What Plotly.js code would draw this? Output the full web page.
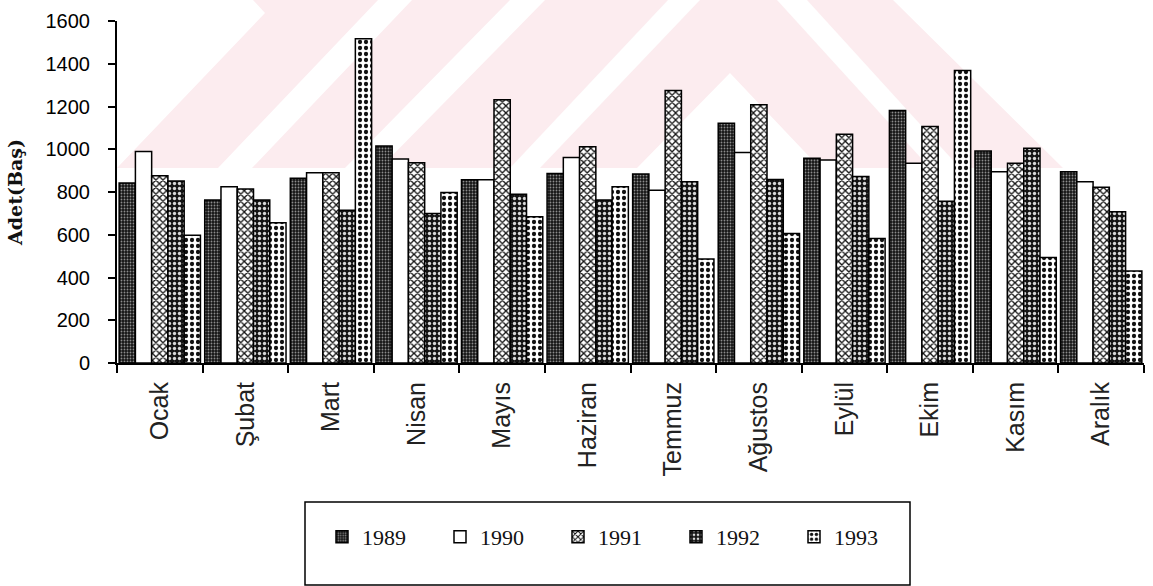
<!DOCTYPE html>
<html>
<head>
<meta charset="utf-8">
<script src="https://cdn.plot.ly/plotly-3.0.1.min.js"></script>
<style>
  html, body { margin: 0; padding: 0; background: #ffffff; }
  #wrap { position: relative; width: 1153px; height: 586px; overflow: hidden; }
  #mark { position: absolute; left: 0; top: 0; }
  #chart { position: absolute; left: 0; top: 0; width: 1153px; height: 586px; }
</style>
</head>
<body>
<div id="wrap">
  <!-- faint striped emblem behind the plot -->
  <svg id="mark" width="1153" height="586">
    <defs><clipPath id="band"><rect x="0" y="0" width="1153" height="168"/></clipPath></defs>
    <g clip-path="url(#band)">
      <polygon fill="#fcecef" points="117,168 265,13 253,0 893,0 1063,168"/>
      <g fill="#ffffff">
        <polygon points="218,168 252,168 412,0 378,0"/>
        <polygon points="345,168 380,168 545,0 510,0"/>
        <polygon points="510,168 540,168 700,0 668,0"/>
        <polygon points="777,0 807,0 960,168 930,168"/>
        <polygon points="637,168 730,73 820,168"/>
      </g>
    </g>
  </svg>
  <div id="chart"></div>
</div>
<script>
// Monthly counts (Adet, Baş) per year
const months = ['Ocak', 'Şubat', 'Mart', 'Nisan', 'Mayıs', 'Haziran',
                'Temmuz', 'Ağustos', 'Eylül', 'Ekim', 'Kasım', 'Aralık'];
const years = ['1989', '1990', '1991', '1992', '1993'];

const y1989 = [842, 762, 864, 1015, 857, 887, 884, 1122, 958, 1181, 992, 895];
const y1990 = [989, 825, 890, 954, 857, 961, 808, 985, 950, 934, 895, 848];
const y1991 = [876, 814, 890, 937, 1231, 1012, 1275, 1208, 1070, 1106, 934, 822];
const y1992 = [851, 762, 715, 700, 789, 762, 848, 859, 872, 757, 1005, 708];
const y1993 = [598, 656, 1517, 798, 684, 825, 486, 606, 583, 1369, 494, 430];

const yTicks = [0, 200, 400, 600, 800, 1000, 1200, 1400, 1600];

const series = [y1989, y1990, y1991, y1992, y1993];

// fill patterns imitating the printed hatchings
const fills = [
  { shape: '.', bgcolor: '#151515', fgcolor: '#8c8c8c', size: 3, solidity: 0.3, fillmode: 'replace' },
  { shape: '',  bgcolor: '#ffffff', fgcolor: '#ffffff', size: 6, solidity: 0.1, fillmode: 'replace' },
  { shape: 'x', bgcolor: '#ffffff', fgcolor: '#111111', size: 5, solidity: 0.45, fillmode: 'replace' },
  { shape: '.', bgcolor: '#141414', fgcolor: '#d8d8d8', size: 5, solidity: 0.35, fillmode: 'replace' },
  { shape: '.', bgcolor: '#ffffff', fgcolor: '#111111', size: 6, solidity: 0.4, fillmode: 'replace' }
];

const traces = years.map((yr, i) => ({
  type: 'bar',
  name: yr,
  x: months,
  y: series[i],
  marker: {
    color: fills[i].bgcolor,
    line: { color: '#000000', width: 1.5 },
    pattern: fills[i]
  },
  hoverinfo: 'x+y+name'
}));

// plot frame in pixels
const W = 1153, H = 586;
const M = { l: 117, r: 9, t: 21, b: 223 };
const PW = W - M.l - M.r, PH = H - M.t - M.b;
const px = x => (x - M.l) / PW;
const py = y => (H - M.b - y) / PH;

const layout = {
  width: W, height: H,
  margin: M,
  paper_bgcolor: 'rgba(0,0,0,0)',
  plot_bgcolor: 'rgba(0,0,0,0)',
  barmode: 'group',
  bargap: 0.05,
  bargroupgap: 0,
  showlegend: true,
  xaxis: {
    showline: true, linecolor: '#000', linewidth: 2,
    ticks: 'outside', tickson: 'boundaries', ticklen: 8, tickwidth: 1.5, tickcolor: '#000',
    tickangle: -90,
    tickfont: { family: 'Liberation Sans, Arial, sans-serif', size: 25, color: '#222' },
    ticklabelstandoff: 7,
    showgrid: false, zeroline: false, automargin: false
  },
  yaxis: {
    range: [0, 1600], tickvals: yTicks,
    showline: true, linecolor: '#000', linewidth: 2,
    ticks: 'outside', ticklen: 7, tickwidth: 2, tickcolor: '#000',
    tickfont: { family: 'Liberation Sans, Arial, sans-serif', size: 20, color: '#000' },
    ticklabelstandoff: 14,
    showgrid: false, zeroline: false, automargin: false,
    title: { text: 'Adet(Baş)', standoff: 18,
             font: { family: 'DejaVu Serif, serif', size: 19, color: '#111', weight: 'bold' } }
  },
  yaxis2: {
    overlaying: 'y', side: 'left', anchor: 'x',
    range: [0, 1600], tickvals: yTicks,
    ticks: 'inside', ticklen: 7, tickwidth: 2, tickcolor: '#000',
    showticklabels: false, showgrid: false, zeroline: false, showline: false
  },
  legend: {
    orientation: 'h',
    x: px(322), y: py(537), xanchor: 'left', yanchor: 'middle',
    bgcolor: 'rgba(0,0,0,0)', borderwidth: 0,
    entrywidth: 73, entrywidthmode: 'pixels',
    font: { family: 'Liberation Serif, serif', size: 22, color: '#111' },
    traceorder: 'normal'
  },
  shapes: [{
    type: 'rect', xref: 'paper', yref: 'paper',
    x0: px(305), x1: px(910), y0: py(585), y1: py(502),
    line: { color: '#000', width: 1.5 }, fillcolor: 'rgba(0,0,0,0)'
  }]
};

Plotly.newPlot('chart', traces, layout, { displayModeBar: false, responsive: false });
</script>
</body>
</html>
